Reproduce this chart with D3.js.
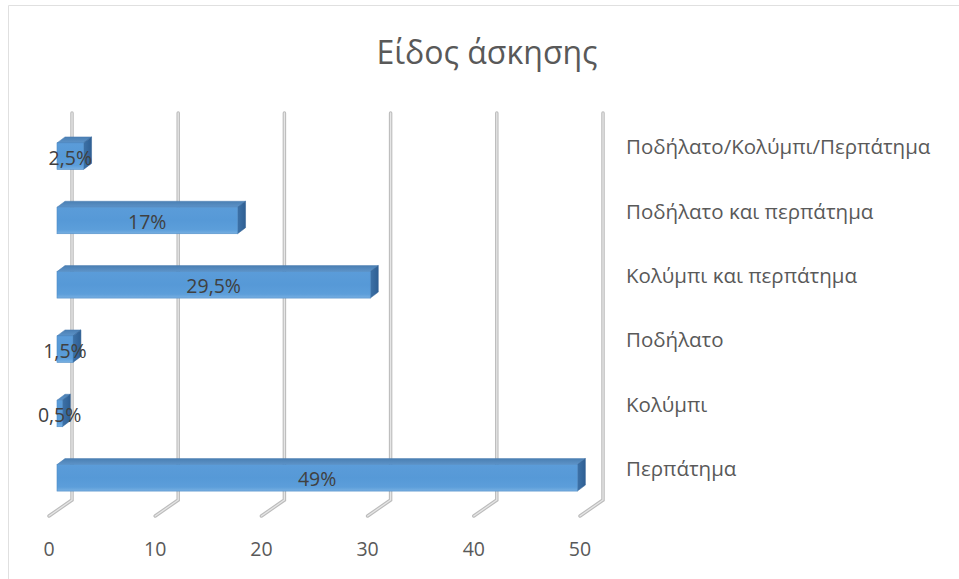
<!DOCTYPE html>
<html>
<head>
<meta charset="utf-8">
<script src="https://cdn.jsdelivr.net/npm/d3@7"></script>
<style>
  body { margin: 0; background: #fff; }
  text { font-family: "Open Sans", "Noto Sans", sans-serif; fill: #595959; }
</style>
</head>
<body>
<div id="chart"></div>
<script>
// chart data
let categories = ["Ποδήλατο/Κολύμπι/Περπάτημα", "Ποδήλατο και περπάτημα", "Κολύμπι και περπάτημα", "Ποδήλατο", "Κολύμπι", "Περπάτημα"];
let values = [2.5, 17, 29.5, 1.5, 0.5, 49];
let valueLabels = ["2,5%", "17%", "29,5%", "1,5%", "0,5%", "49%"];
let ticks = [0, 10, 20, 30, 40, 50];
let title = "Είδος άσκησης";

// svg size
let svgWidth = 959;
let svgHeight = 579;

// 3d offsets
let depth = { dx: 8, dy: -6 };     // bar depth
let wallShift = 15;                // back wall vs bar front plane
let floorShift = { dx: -23, dy: 16 };
let wallTop = 113;
let floorY = 500;

let svg = d3.select("#chart")
  .append("svg")
  .attr("width", svgWidth)
  .attr("height", svgHeight);

let defs = svg.append("defs");

// gradients for the bars
let gFront = defs.append("linearGradient").attr("id", "gFront")
  .attr("x1", 0).attr("y1", 0).attr("x2", 0).attr("y2", 1);
gFront.append("stop").attr("offset", "0%").attr("stop-color", "#5b9cd9");
gFront.append("stop").attr("offset", "50%").attr("stop-color", "#5699d7");
gFront.append("stop").attr("offset", "85%").attr("stop-color", "#5c9eda");
gFront.append("stop").attr("offset", "100%").attr("stop-color", "#78b0e2");

let gTop = defs.append("linearGradient").attr("id", "gTop")
  .attr("x1", 0).attr("y1", 0).attr("x2", 0).attr("y2", 1);
gTop.append("stop").attr("offset", "0%").attr("stop-color", "#4a7fb3");
gTop.append("stop").attr("offset", "100%").attr("stop-color", "#5d93c8");

let gSide = defs.append("linearGradient").attr("id", "gSide")
  .attr("x1", 0).attr("y1", 0).attr("x2", 1).attr("y2", 0);
gSide.append("stop").attr("offset", "0%").attr("stop-color", "#3d72a8");
gSide.append("stop").attr("offset", "100%").attr("stop-color", "#2f5f93");

// faint frame on the left and top edges only
svg.append("path")
  .attr("d", "M8.5,579 L8.5,5.5 L959,5.5")
  .attr("fill", "none")
  .attr("stroke", "#e0e0e0");

// scales
let xBack = d3.scaleLinear().domain([0, 50]).range([72, 603]);
let xFront = v => xBack(v) - wallShift;
let yScale = d3.scalePoint().domain(categories).range([124, 510]).padding(0.5);
let barHeight = 26.5;

// title
svg.append("text")
  .attr("x", 487).attr("y", 51)
  .attr("text-anchor", "middle")
  .attr("dominant-baseline", "central")
  .attr("font-size", 32)
  .text(title);

// gridlines on the back wall with floor ticks
let gridGroup = svg.append("g");
function pipe(sel, d) {
  sel.append("path").attr("d", d).attr("fill", "none")
    .attr("stroke", "#bcbcbc").attr("stroke-width", 3.5).attr("stroke-linecap", "round");
  sel.append("path").attr("d", d).attr("fill", "none")
    .attr("stroke", "#e6e6e6").attr("stroke-width", 1.3).attr("stroke-linecap", "round");
}
ticks.forEach(function(t) {
  let x = xBack(t);
  let d = `M${x},${wallTop} L${x},${floorY} L${x + floorShift.dx},${floorY + floorShift.dy}`;
  pipe(gridGroup, d);
});

// axis tick labels
svg.append("g").selectAll("text")
  .data(ticks)
  .enter()
  .append("text")
  .attr("x", d => xBack(d) + floorShift.dx)
  .attr("y", 548)
  .attr("text-anchor", "middle")
  .attr("dominant-baseline", "central")
  .attr("font-size", 19.5)
  .text(d => d);

// category labels
svg.append("g").selectAll("text")
  .data(categories)
  .enter()
  .append("text")
  .attr("x", 626)
  .attr("y", d => yScale(d) - 10)
  .attr("dominant-baseline", "central")
  .attr("font-size", 20.5)
  .text(d => d);

// bars
let barsGroup = svg.append("g").selectAll("g")
  .data(values)
  .enter()
  .append("g");

barsGroup.each(function(v, i) {
  let g = d3.select(this);
  let x0 = xFront(0);
  let x1 = xFront(v);
  let y0 = yScale(categories[i]) - barHeight / 2;
  let y1 = y0 + barHeight;
  // top face
  g.append("polygon")
    .attr("points", [[x0, y0], [x0 + depth.dx, y0 + depth.dy], [x1 + depth.dx, y0 + depth.dy], [x1, y0]].join(" "))
    .attr("fill", "url(#gTop)")
    .attr("stroke", "#4a7db0").attr("stroke-width", 0.5);
  // right side
  g.append("polygon")
    .attr("points", [[x1, y0], [x1 + depth.dx, y0 + depth.dy], [x1 + depth.dx, y1 + depth.dy], [x1, y1]].join(" "))
    .attr("fill", "url(#gSide)")
    .attr("stroke", "#2f5f93").attr("stroke-width", 0.5);
  // front face
  g.append("rect")
    .attr("x", x0).attr("y", y0)
    .attr("width", x1 - x0).attr("height", barHeight)
    .attr("fill", "url(#gFront)")
    .attr("stroke", "#4f8cc6").attr("stroke-width", 0.6);
});

// value labels
barsGroup.append("text")
  .attr("x", (d) => (xFront(0) + xFront(d)) / 2)
  .attr("y", (d, i) => yScale(categories[i]) + 1)
  .attr("text-anchor", "middle")
  .attr("dominant-baseline", "central")
  .attr("font-size", 19.5)
  .style("fill", "#404040")
  .text((d, i) => valueLabels[i]);
</script>
</body>
</html>
